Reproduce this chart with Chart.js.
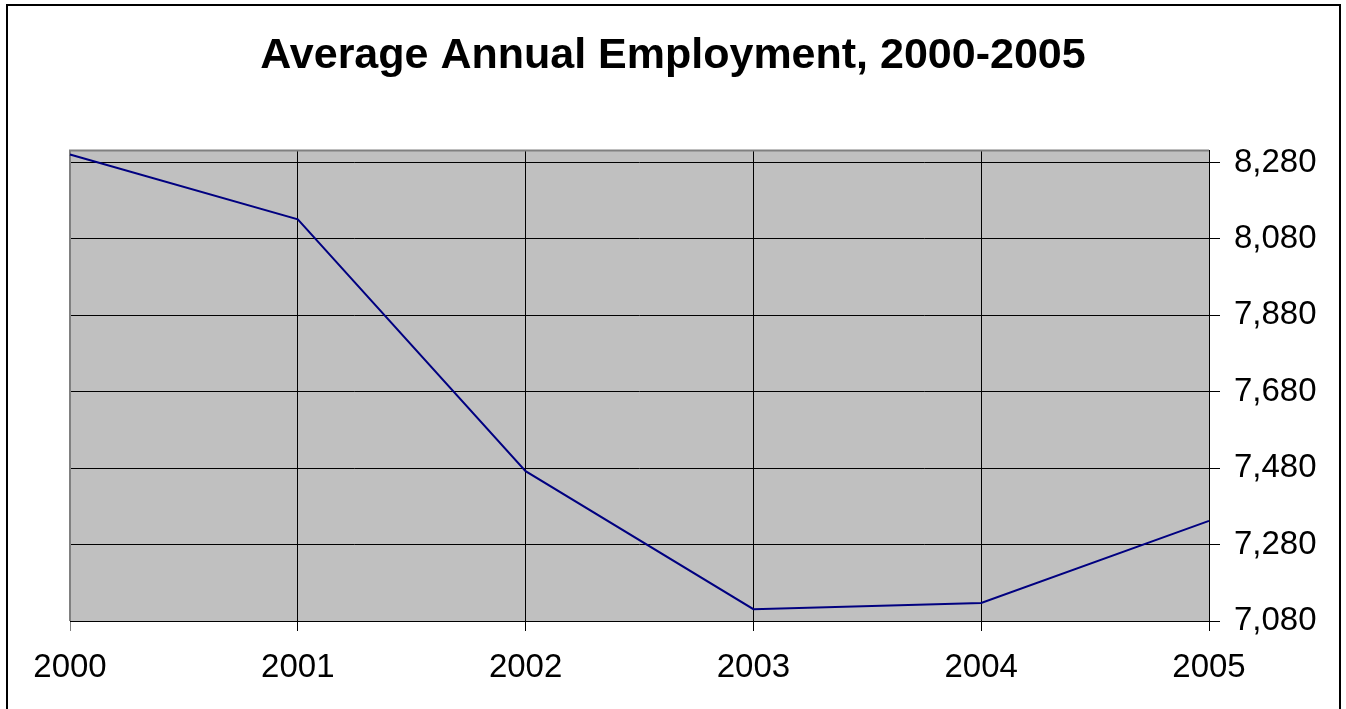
<!DOCTYPE html>
<html>
<head>
<meta charset="utf-8">
<title>Average Annual Employment, 2000-2005</title>
<script src="https://cdn.jsdelivr.net/npm/chart.js@4/dist/chart.umd.min.js"></script>
<style>
  html, body { margin: 0; padding: 0; background: #fff; }
  #wrap { width: 1346px; height: 709px; }
</style>
</head>
<body>
<div id="wrap"><canvas id="chart" width="1346" height="709"></canvas></div>
<script>
const years = ["2000", "2001", "2002", "2003", "2004", "2005"];
const employment = [8301, 8131, 7472, 7111, 7127, 7342];
const yTicks = [7080, 7280, 7480, 7680, 7880, 8080, 8280];
const yMin = 7080;
const yMax = 8311;

const labelFont = { family: "'Liberation Sans', Arial, sans-serif", size: 33 };

// plot background, outer frame and the grey top/left plot edges
const plotFrame = {
  id: "plotFrame",
  beforeDraw(chart) {
    const { ctx, chartArea: a } = chart;
    ctx.save();
    ctx.fillStyle = "#ffffff";
    ctx.fillRect(0, 0, chart.width, chart.height);
    ctx.fillStyle = "#c0c0c0";
    ctx.fillRect(a.left, a.top, a.right - a.left, a.bottom - a.top);
    ctx.strokeStyle = "#000000";
    ctx.lineWidth = 2;
    ctx.strokeRect(7, 5, 1333, 720);
    ctx.restore();
  },
  beforeDatasetsDraw(chart) {
    const { ctx, chartArea: a } = chart;
    ctx.save();
    ctx.strokeStyle = "#808080";
    ctx.lineWidth = 2;
    ctx.beginPath();
    ctx.moveTo(a.left, a.bottom);
    ctx.lineTo(a.left, a.top);
    ctx.lineTo(a.right, a.top);
    ctx.stroke();
    ctx.restore();
  }
};

new Chart(document.getElementById("chart"), {
  type: "line",
  data: {
    labels: years,
    datasets: [
      {
        label: "Average Annual Employment",
        data: employment,
        borderColor: "#000080",
        borderWidth: 2,
        pointRadius: 0,
        tension: 0,
        fill: false
      }
    ]
  },
  options: {
    responsive: false,
    animation: false,
    layout: { padding: 0 },
    plugins: {
      legend: { display: false },
      tooltip: { enabled: false },
      title: {
        display: true,
        text: "Average Annual Employment, 2000-2005",
        color: "#000000",
        font: { family: "'Liberation Sans', Arial, sans-serif", size: 43, weight: "bold" },
        padding: { top: 30, bottom: 69 }
      }
    },
    scales: {
      x: {
        type: "category",
        offset: false,
        grid: {
          color: (c) => (c.index === 0 ? "#808080" : "#000000"),
          tickColor: (c) => (c.index === 0 ? "#808080" : "#000000"),
          lineWidth: 1,
          tickLength: 10
        },
        border: { color: "#000000", width: 1 },
        ticks: {
          color: "#000000",
          font: labelFont,
          padding: 17,
          maxRotation: 0,
          autoSkip: false
        },
        afterFit: (scale) => { scale.height = 88; }
      },
      // empty left gutter so the title stays centred on the page
      gutter: {
        position: "left",
        min: yMin,
        max: yMax,
        grid: { display: false },
        border: { display: false },
        ticks: { display: false },
        afterFit: (scale) => { scale.width = 70; }
      },
      y: {
        position: "right",
        min: yMin,
        max: yMax,
        afterBuildTicks: (scale) => {
          scale.ticks = yTicks.map((v) => ({ value: v }));
        },
        grid: {
          color: "#000000",
          tickColor: "#000000",
          lineWidth: 1,
          tickLength: 11
        },
        border: { color: "#000000", width: 1 },
        ticks: {
          color: "#000000",
          font: labelFont,
          padding: 14,
          callback: (v) => Number(v).toLocaleString("en-US")
        },
        afterFit: (scale) => { scale.width = 137; }
      }
    }
  },
  plugins: [plotFrame]
});
</script>
</body>
</html>
